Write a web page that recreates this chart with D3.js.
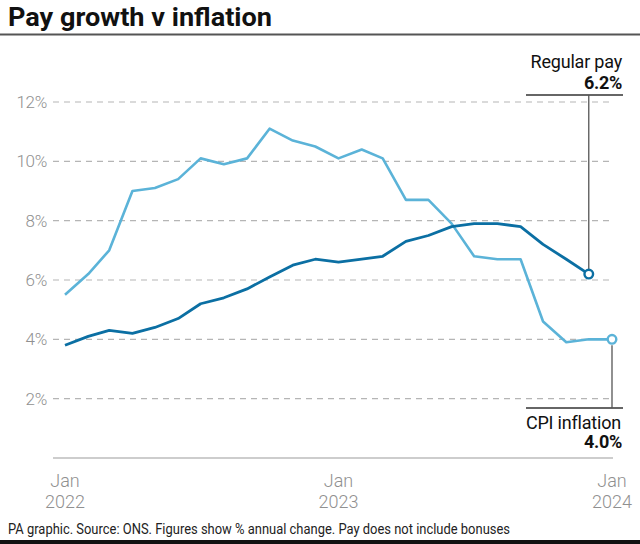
<!DOCTYPE html>
<html>
<head>
<meta charset="utf-8">
<script src="https://cdn.jsdelivr.net/npm/d3@7"></script>
<style>
  body { margin: 0; background: #fff; }
  svg { display: block; font-family: Roboto, "Liberation Sans", sans-serif; }
</style>
</head>
<body>
<svg id="chart" width="640" height="544"></svg>
<script>
// ---- Data ----
const cpiMonths = ["2022-01","2022-02","2022-03","2022-04","2022-05","2022-06","2022-07","2022-08","2022-09","2022-10","2022-11","2022-12",
                   "2023-01","2023-02","2023-03","2023-04","2023-05","2023-06","2023-07","2023-08","2023-09","2023-10","2023-11","2023-12","2024-01"];
const cpiValues = [5.5,6.2,7.0,9.0,9.1,9.4,10.1,9.9,10.1,11.1,10.7,10.5,
                   10.1,10.4,10.1,8.7,8.7,7.9,6.8,6.7,6.7,4.6,3.9,4.0,4.0];
const payMonths = ["2022-01","2022-02","2022-03","2022-04","2022-05","2022-06","2022-07","2022-08","2022-09","2022-10","2022-11","2022-12",
                   "2023-01","2023-02","2023-03","2023-04","2023-05","2023-06","2023-07","2023-08","2023-09","2023-10","2023-11","2023-12"];
const payValues = [3.8,4.1,4.3,4.2,4.4,4.7,5.2,5.4,5.7,6.1,6.5,6.7,
                   6.6,6.7,6.8,7.3,7.5,7.8,7.9,7.9,7.8,7.2,6.7,6.2];
const yTicks = [2,4,6,8,10,12];
const xTicks = ["2022-01","2023-01","2024-01"];

const parse = d3.timeParse("%Y-%m");
const cpi = cpiMonths.map((m,i) => ({date: parse(m), value: cpiValues[i]}));
const pay = payMonths.map((m,i) => ({date: parse(m), value: payValues[i]}));

const svg = d3.select("#chart");
const W = 640;

const x = d3.scaleTime().domain([parse("2022-01"), parse("2024-01")]).range([65, 612]);
const y = d3.scaleLinear().domain([0, 12]).range([458, 102]);

const cpiColor = "#5bb3d8";
const payColor = "#0b6fa3";

// Title
svg.append("text").attr("x", 8).attr("y", 26)
  .attr("font-size", 25).attr("font-weight", 700).attr("fill", "#111")
  .attr("textLength", 264).attr("lengthAdjust", "spacingAndGlyphs")
  .text("Pay growth v inflation");
svg.append("rect").attr("x", 0).attr("y", 33.5).attr("width", W).attr("height", 2).attr("fill", "#555");

// Gridlines
svg.append("g").selectAll("line").data(yTicks).join("line")
  .attr("x1", 53).attr("x2", 613)
  .attr("y1", d => y(d)).attr("y2", d => y(d))
  .attr("stroke", "#b5b5b5").attr("stroke-width", 1.2).attr("stroke-dasharray", "6,5");
svg.append("line").attr("x1", 53).attr("x2", 613).attr("y1", y(0)).attr("y2", y(0))
  .attr("stroke", "#bdbdbd").attr("stroke-width", 1.5);

// Y tick labels
svg.append("g").selectAll("text").data(yTicks).join("text")
  .attr("x", 47).attr("y", d => y(d) + 6)
  .attr("text-anchor", "end").attr("font-size", 17).attr("font-weight", 300).attr("fill", "#909090")
  .attr("letter-spacing", -0.3)
  .text(d => d + "%");

// X tick labels
const xg = svg.append("g").selectAll("g").data(xTicks).join("g")
  .attr("transform", d => `translate(${x(parse(d))},0)`);
xg.append("text").attr("y", 487).attr("text-anchor", "middle")
  .attr("font-size", 18).attr("font-weight", 300).attr("fill", "#909090").text("Jan");
xg.append("text").attr("y", 508).attr("text-anchor", "middle")
  .attr("font-size", 18).attr("font-weight", 300).attr("fill", "#909090").text(d => d.slice(0,4));

// Lines
const line = d3.line().x(d => x(d.date)).y(d => y(d.value));
svg.append("path").datum(cpi).attr("d", line).attr("fill", "none")
  .attr("stroke", cpiColor).attr("stroke-width", 2.6).attr("stroke-linejoin", "round");
svg.append("path").datum(pay).attr("d", line).attr("fill", "none")
  .attr("stroke", payColor).attr("stroke-width", 2.8).attr("stroke-linejoin", "round");

const lastPay = pay[pay.length - 1];
const lastCpi = cpi[cpi.length - 1];

// Annotation leaders
svg.append("line").attr("x1", 526).attr("x2", 623).attr("y1", 95).attr("y2", 95)
  .attr("stroke", "#333").attr("stroke-width", 1.3);
svg.append("line").attr("x1", x(lastPay.date)).attr("x2", x(lastPay.date))
  .attr("y1", 95).attr("y2", y(lastPay.value) - 5)
  .attr("stroke", "#555").attr("stroke-width", 1.3);
svg.append("line").attr("x1", 526).attr("x2", 623).attr("y1", 408).attr("y2", 408)
  .attr("stroke", "#333").attr("stroke-width", 1.3);
svg.append("line").attr("x1", x(lastCpi.date)).attr("x2", x(lastCpi.date))
  .attr("y1", y(lastCpi.value) + 6).attr("y2", 408)
  .attr("stroke", "#555").attr("stroke-width", 1.3);

// End circles
svg.append("circle").attr("cx", x(lastPay.date)).attr("cy", y(lastPay.value)).attr("r", 4.3)
  .attr("fill", "#fff").attr("stroke", payColor).attr("stroke-width", 2.4);
svg.append("circle").attr("cx", x(lastCpi.date)).attr("cy", y(lastCpi.value)).attr("r", 4.3)
  .attr("fill", "#fff").attr("stroke", cpiColor).attr("stroke-width", 2.4);

// Annotation labels
svg.append("text").attr("x", 622).attr("y", 68).attr("text-anchor", "end")
  .attr("font-size", 18).attr("fill", "#111").attr("letter-spacing", -0.2).text("Regular pay");
svg.append("text").attr("x", 622).attr("y", 89).attr("text-anchor", "end")
  .attr("font-size", 18).attr("font-weight", 700).attr("fill", "#111").attr("letter-spacing", -0.3)
  .text(lastPay.value.toFixed(1) + "%");
svg.append("text").attr("x", 621).attr("y", 429).attr("text-anchor", "end")
  .attr("font-size", 18).attr("fill", "#111").attr("letter-spacing", -0.2).text("CPI inflation");
svg.append("text").attr("x", 622).attr("y", 448).attr("text-anchor", "end")
  .attr("font-size", 18).attr("font-weight", 700).attr("fill", "#111").attr("letter-spacing", -0.3)
  .text(lastCpi.value.toFixed(1) + "%");

// Footer
svg.append("text").attr("x", 8).attr("y", 534)
  .attr("font-size", 14).attr("fill", "#222")
  .attr("textLength", 502).attr("lengthAdjust", "spacingAndGlyphs")
  .text("PA graphic. Source: ONS. Figures show % annual change. Pay does not include bonuses");
svg.append("rect").attr("x", 0).attr("y", 540).attr("width", W).attr("height", 4).attr("fill", "#111");
</script>
</body>
</html>
